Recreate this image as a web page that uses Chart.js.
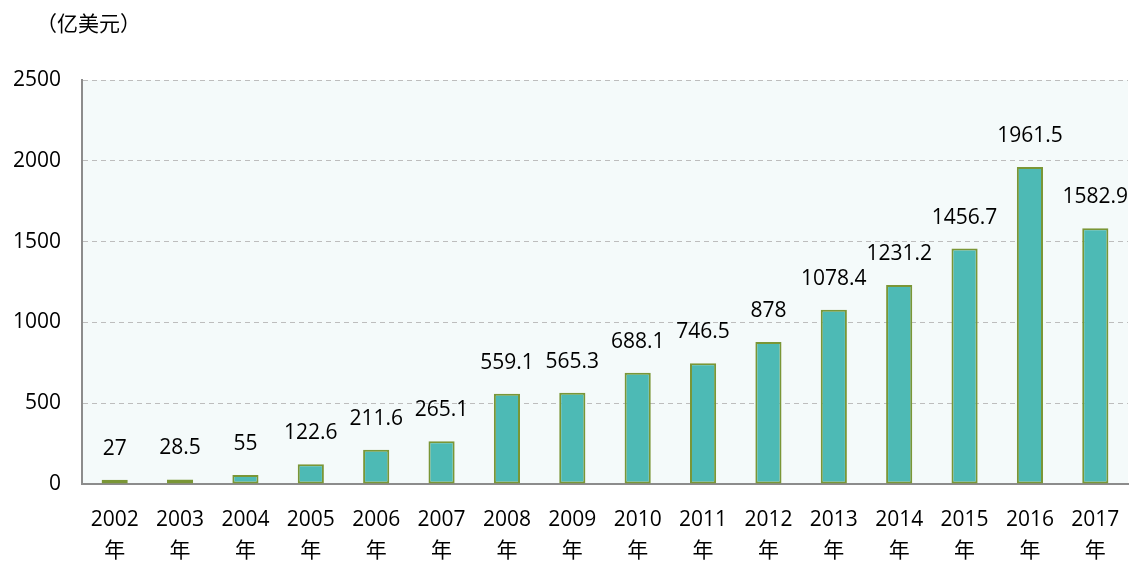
<!DOCTYPE html>
<html>
<head>
<meta charset="utf-8">
<script src="https://cdn.jsdelivr.net/npm/chart.js@4"></script>
<style>
  html, body { margin: 0; padding: 0; background: #fff; }
  #wrap { position: relative; width: 1131px; height: 565px; }
  #unit { position: absolute; left: 36px; top: 7px; font: 21px 'Noto Sans CJK SC', sans-serif; color: #000; }
</style>
</head>
<body>
<div id="wrap">
  <div id="unit">（亿美元）</div>
  <canvas id="c" width="1131" height="565"></canvas>
</div>
<script>
const YEARS = ['2002', '2003', '2004', '2005', '2006', '2007', '2008', '2009',
  '2010', '2011', '2012', '2013', '2014', '2015', '2016', '2017'];
const VALUES = [27, 28.5, 55, 122.6, 211.6, 265.1, 559.1, 565.3,
  688.1, 746.5, 878, 1078.4, 1231.2, 1456.7, 1961.5, 1582.9];
const Y_TICKS = [0, 500, 1000, 1500, 2000, 2500];

const FONT = "'Open Sans', 'Noto Sans CJK SC', sans-serif";

const plotBg = {
  id: 'plotBg',
  beforeDraw(chart) {
    const { ctx, chartArea: a } = chart;
    ctx.save();
    ctx.fillStyle = '#f4fafa';
    ctx.fillRect(a.left, a.top, a.right - a.left, a.bottom - a.top);
    ctx.restore();
  },
};

const valueLabels = {
  id: 'valueLabels',
  afterDatasetsDraw(chart) {
    const { ctx } = chart;
    const meta = chart.getDatasetMeta(0);
    ctx.save();
    ctx.font = '21px ' + FONT;
    ctx.fillStyle = '#000';
    ctx.textAlign = 'center';
    ctx.textBaseline = 'middle';
    meta.data.forEach((bar, i) => {
      ctx.fillText(String(VALUES[i]), bar.x, bar.y - 31);
    });
    ctx.restore();
  },
};

new Chart(document.getElementById('c'), {
  type: 'bar',
  data: {
    labels: YEARS.map((y) => [y, '年']),
    datasets: [
      {
        data: VALUES,
        backgroundColor: '#4dbab5',
        borderColor: '#7a9636',
        borderWidth: 2,
        borderSkipped: false,
        barPercentage: 0.4,
        categoryPercentage: 1,
      },
    ],
  },
  options: {
    responsive: false,
    animation: false,
    layout: { padding: { top: 80, right: 3, left: 0, bottom: 0 } },
    plugins: { legend: { display: false }, tooltip: { enabled: false } },
    scales: {
      x: {
        grid: { display: false, drawTicks: false },
        border: { color: '#8c8c8c', width: 2 },
        ticks: {
          color: '#000',
          font: { family: FONT, size: 21, lineHeight: 1.5 },
          padding: 20,
          maxRotation: 0,
          autoSkip: false,
        },
        afterFit(s) {
          s.height = 81;
          s.paddingLeft = 0;
          s.paddingRight = 0;
        },
      },
      y: {
        min: 0,
        max: 2500,
        afterBuildTicks(s) { s.ticks = Y_TICKS.map((v) => ({ value: v })); },
        grid: { color: '#bdbdbd', lineWidth: 1, drawTicks: false },
        border: { color: '#8c8c8c', width: 2, dash: [5, 4] },
        ticks: {
          color: '#000',
          font: { family: FONT, size: 21 },
          padding: 21,
          callback: (v) => String(v),
        },
        afterFit(s) { s.width = 82; },
      },
    },
  },
  plugins: [plotBg, valueLabels],
});
</script>
</body>
</html>
